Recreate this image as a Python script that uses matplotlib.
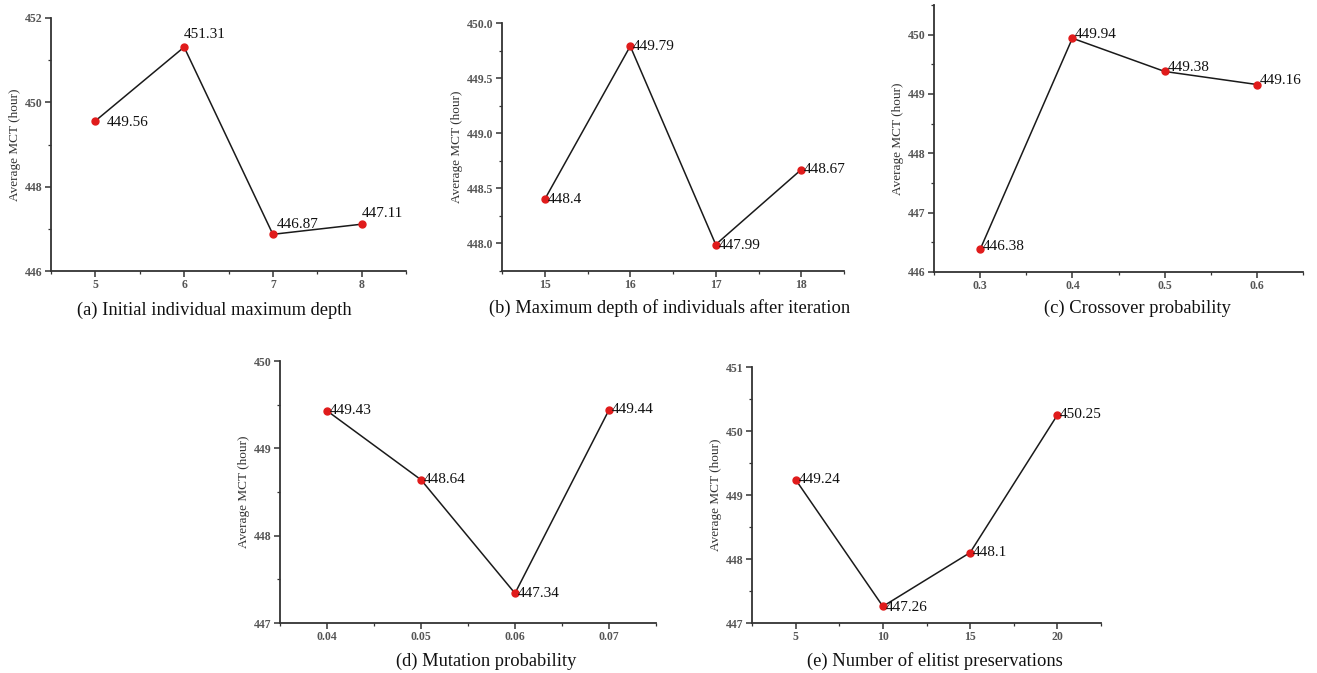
import matplotlib
matplotlib.use("Agg")
import matplotlib.pyplot as plt
from matplotlib.ticker import MultipleLocator

plt.rcParams['font.family'] = ['Liberation Serif', 'DejaVu Serif']

# data
depth_init = [5, 6, 7, 8]
mct_a = [449.56, 451.31, 446.87, 447.11]

depth_iter = [15, 16, 17, 18]
mct_b = [448.4, 449.79, 447.99, 448.67]

cross_p = [0.3, 0.4, 0.5, 0.6]
mct_c = [446.38, 449.94, 449.38, 449.16]

mut_p = [0.04, 0.05, 0.06, 0.07]
mct_d = [449.43, 448.64, 447.34, 449.44]

elite_n = [5, 10, 15, 20]
mct_e = [449.24, 447.26, 448.1, 450.25]

labels_a = ["449.56", "451.31", "446.87", "447.11"]
labels_b = ["448.4", "449.79", "447.99", "448.67"]
labels_c = ["446.38", "449.94", "449.38", "449.16"]
labels_d = ["449.43", "448.64", "447.34", "449.44"]
labels_e = ["449.24", "447.26", "448.1", "450.25"]

captions = ["(a) Initial individual maximum depth",
            "(b) Maximum depth of individuals after iteration",
            "(c) Crossover probability",
            "(d) Mutation probability",
            "(e) Number of elitist preservations"]

W, H = 1317, 673
fig = plt.figure(figsize=(W / 100, H / 100), dpi=100)


def px_axes(l, r, t, b):
    return fig.add_axes([l / W, 1 - b / H, (r - l) / W, (b - t) / H])


def style(ax, xlim, ylim, xmaj, xmin, ymaj, ymin, fmt=None):
    ax.set_xlim(*xlim)
    ax.set_ylim(*ylim)
    ax.xaxis.set_major_locator(MultipleLocator(xmaj))
    ax.xaxis.set_minor_locator(MultipleLocator(xmin))
    ax.yaxis.set_major_locator(MultipleLocator(ymaj))
    ax.yaxis.set_minor_locator(MultipleLocator(ymin))
    if fmt:
        ax.yaxis.set_major_formatter(fmt)
    ax.spines['top'].set_visible(False)
    ax.spines['right'].set_visible(False)
    for s in ['left', 'bottom']:
        ax.spines[s].set_linewidth(1.3)
        ax.spines[s].set_color('#333333')
    ax.tick_params(which='major', direction='out', length=4, width=1.1, labelsize=8.5,
                   labelcolor='#555555', pad=2, color='#333333')
    ax.tick_params(which='minor', direction='out', length=2, width=0.9, color='#333333')
    for t in ax.get_xticklabels() + ax.get_yticklabels():
        t.set_fontweight('bold')
    ax.set_ylabel("Average MCT (hour)", fontsize=9.5, color='#333333', labelpad=3)


def draw(ax, x, y, labs, offsets):
    ax.plot(x, y, color='#1a1a1a', lw=1.1, zorder=2)
    ax.plot(x, y, 'o', color='#e01b1b', ms=5, zorder=3, clip_on=False)
    for xi, yi, t, (dx, dy) in zip(x, y, labs, offsets):
        ax.annotate(t, (xi, yi), xytext=(dx, dy), textcoords='offset points',
                    ha='left', va='center', fontsize=11, color='#111111')


# (a)
ax = px_axes(51, 406, 18, 271)
draw(ax, depth_init, mct_a, labels_a, [(8, -1), (0, 9), (3, 7), (0, 8)])
style(ax, (4.5, 8.5), (446, 452), 1, 0.5, 2, 1)

# (b)
ax = px_axes(502, 844, 23, 271)
draw(ax, depth_iter, mct_b, labels_b, [(2, 0), (2, 0), (2, -1), (2, 0)])
style(ax, (14.5, 18.5), (447.75, 450.0), 1, 0.5, 0.5, 0.25, '{x:.1f}')

# (c)
ax = px_axes(934, 1303, 5, 272)
draw(ax, cross_p, mct_c, labels_c, [(2, 2), (2, 3), (2, 3), (2, 3)])
style(ax, (0.25, 0.65), (446, 450.5), 0.1, 0.05, 1, 0.5, '{x:.0f}')
ax.xaxis.set_major_formatter('{x:.1f}')

# (d)
ax = px_axes(280, 656, 361, 623)
draw(ax, mut_p, mct_d, labels_d, [(2, 0), (2, 0), (2, 0), (2, 0)])
style(ax, (0.035, 0.075), (447, 450), 0.01, 0.005, 1, 0.5, '{x:.0f}')
ax.xaxis.set_major_formatter('{x:.2f}')

# (e)
ax = px_axes(752, 1101, 367, 623)
draw(ax, elite_n, mct_e, labels_e, [(2, 0), (2, -1), (2, 0), (2, 0)])
style(ax, (2.5, 22.5), (447, 451), 5, 2.5, 1, 0.5, '{x:.0f}')

# captions
cap_pos = [(214, 310), (670, 308), (1137, 308), (486, 661), (935, 661)]
for c, (cx, cy) in zip(captions, cap_pos):
    fig.text(cx / W, 1 - cy / H, c, ha='center', va='center', fontsize=13.3, color='#111111')

fig.savefig("out.png", dpi=100)
